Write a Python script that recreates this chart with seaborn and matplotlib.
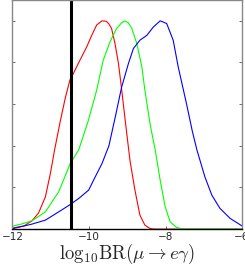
import numpy as np
import pandas as pd
import matplotlib
matplotlib.use("Agg")
import matplotlib.pyplot as plt
import seaborn as sns

# -----------------------------
# Curves (normalised posteriors)
red_x = [-12.0, -11.7, -11.49, -11.32, -11.14, -11.01, -10.9, -10.76, -10.62, -10.5,
         -10.41, -10.24, -10.06, -9.93, -9.8, -9.66, -9.55, -9.48, -9.41, -9.32,
         -9.23, -9.15, -9.04, -8.93, -8.8, -8.67, -8.54, -8.41, -8.3, -6.0]
red_y = [0.005, 0.015, 0.04, 0.077, 0.155, 0.267, 0.38, 0.51, 0.63, 0.715,
         0.747, 0.81, 0.875, 0.93, 0.98, 1.0, 0.998, 0.985, 0.963, 0.89,
         0.795, 0.675, 0.5, 0.33, 0.187, 0.067, 0.019, 0.003, 0.0, 0.0]

green_x = [-12.0, -11.75, -11.49, -11.14, -10.79, -10.49, -10.27, -10.02, -9.8, -9.63,
           -9.45, -9.28, -9.15, -9.06, -8.97, -8.88, -8.75, -8.62, -8.54, -8.4,
           -8.27, -8.14, -8.01, -7.88, -7.71, -7.55, -6.0]
green_y = [0.014, 0.025, 0.04, 0.083, 0.18, 0.315, 0.38, 0.52, 0.667, 0.81,
           0.9, 0.963, 0.99, 1.0, 0.99, 0.963, 0.89, 0.78, 0.667, 0.5,
           0.38, 0.235, 0.107, 0.035, 0.008, 0.0, 0.0]

blue_x = [-12.0, -11.49, -11.14, -10.79, -10.49, -10.27, -10.01, -9.84, -9.66, -9.48,
          -9.3, -9.15, -8.97, -8.84, -8.67, -8.49, -8.32, -8.14, -7.97, -7.8,
          -7.67, -7.45, -7.3, -7.18, -6.97, -6.79, -6.58, -6.31, -6.0]
blue_y = [0.002, 0.024, 0.043, 0.083, 0.118, 0.147, 0.187, 0.25, 0.315, 0.4,
          0.55, 0.68, 0.795, 0.867, 0.907, 0.93, 0.97, 1.0, 0.987, 0.907,
          0.78, 0.6, 0.47, 0.38, 0.25, 0.163, 0.1, 0.051, 0.015]

bound_x = -10.47  # experimental limit
x_ticks = [-12, -10, -8, -6]
y_ticks = [0, 0.2, 0.4, 0.6, 0.8, 1.0]

# -----------------------------
df = pd.concat([
    pd.DataFrame({'x': red_x, 'y': red_y, 'curve': 'red'}),
    pd.DataFrame({'x': green_x, 'y': green_y, 'curve': 'green'}),
    pd.DataFrame({'x': blue_x, 'y': blue_y, 'curve': 'blue'}),
])

sns.set_style("white")
plt.rcParams['mathtext.fontset'] = 'cm'

fig = plt.figure(figsize=(2.45, 2.67), dpi=100)
ax = fig.add_axes([0.051, 0.142, 0.937, 0.858])

sns.lineplot(data=df, x='x', y='y', hue='curve', sort=False, estimator=None,
             palette={'red': '#ff0000', 'green': '#00ff00', 'blue': '#0000ff'},
             linewidth=0.8, legend=False, ax=ax)
ax.axvline(bound_x, color='black', linewidth=2.2)

ax.set_xlim(-12, -6)
ax.set_ylim(0, 1.1)
ax.set_xticks(x_ticks)
ax.set_xticklabels([f"\u2212{abs(t)}" for t in x_ticks], fontsize=7.5)
ax.set_yticks(y_ticks)
ax.set_yticklabels([])
ax.tick_params(direction='in', length=2.5, width=0.6, color='#555555',
               top=False, right=True, left=True, bottom=True, pad=2)
ax.set_xlabel(r'${\rm log}_{10}{\rm BR}(\mu\to e\gamma)$', fontsize=13.5, labelpad=0)
ax.set_ylabel('')

for side in ['left', 'right', 'top']:
    ax.spines[side].set_color('#888888')
    ax.spines[side].set_linewidth(1.0)
ax.spines['bottom'].set_color('black')
ax.spines['bottom'].set_linewidth(1.0)

fig.savefig('out.png', dpi=100)
